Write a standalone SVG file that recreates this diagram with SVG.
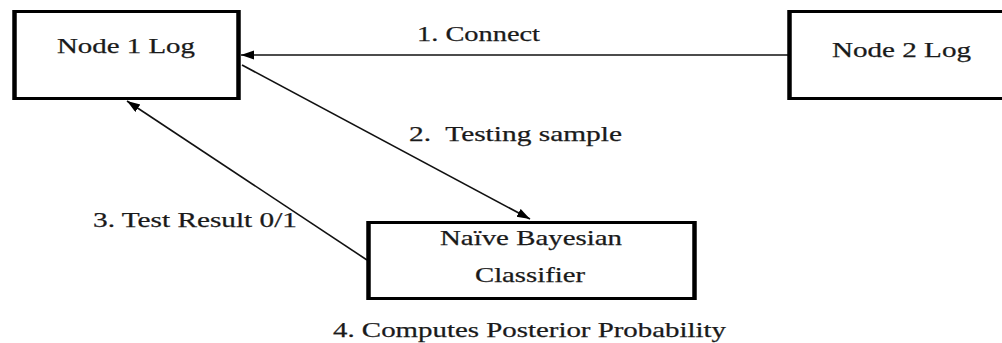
<svg xmlns="http://www.w3.org/2000/svg" width="1002" height="343" viewBox="0 0 1002 343">
  <style>
    .box { fill: #ffffff; stroke: #000000; stroke-width: 3; }
    .side { stroke: #000000; stroke-width: 4.5; fill: none; }
    .label { font-family: "Liberation Serif", "Times New Roman", serif; font-size: 21px; fill: #1a1a1a; stroke: #1a1a1a; stroke-width: 0.25; white-space: pre; }
    .edge { stroke: #111111; stroke-width: 1.6; fill: none; marker-end: url(#arrow); }
  </style>
  <defs>
    <marker id="arrow" markerUnits="userSpaceOnUse" markerWidth="14" markerHeight="10" refX="13" refY="4.5" orient="auto">
      <path d="M0,0 L13,4.5 L0,9 Z" fill="#000000"/>
    </marker>
  </defs>
  <rect width="1002" height="343" fill="#ffffff"/>

  <!-- connectors -->
  <g id="connectors">
    <line class="edge" x1="788" y1="55" x2="241" y2="55"/>
    <line class="edge" x1="242" y1="65" x2="530" y2="219"/>
    <line class="edge" x1="367" y1="260" x2="127" y2="101"/>
    <text class="label" x="417" y="41" textLength="123" lengthAdjust="spacingAndGlyphs">1. Connect</text>
    <text class="label" x="409" y="141" textLength="213" lengthAdjust="spacingAndGlyphs">2.  Testing sample</text>
    <text class="label" x="93" y="227" textLength="204" lengthAdjust="spacingAndGlyphs">3. Test Result 0/1</text>
    <text class="label" x="333" y="337" textLength="393" lengthAdjust="spacingAndGlyphs">4. Computes Posterior Probability</text>
  </g>

  <!-- Node 1 Log -->
  <g id="node1">
    <rect class="box" x="14.5" y="11.5" width="224" height="87"/>
    <line class="side" x1="14.5" y1="10" x2="14.5" y2="100"/>
    <line class="side" x1="238.5" y1="10" x2="238.5" y2="100"/>
    <text class="label" x="57" y="53" textLength="138" lengthAdjust="spacingAndGlyphs">Node 1 Log</text>
  </g>

  <!-- Node 2 Log (runs past the right edge) -->
  <g id="node2">
    <rect class="box" x="789.5" y="11.5" width="230" height="87"/>
    <line class="side" x1="789.5" y1="10" x2="789.5" y2="100"/>
    <text class="label" x="832" y="57" textLength="139" lengthAdjust="spacingAndGlyphs">Node 2 Log</text>
  </g>

  <!-- Naive Bayesian Classifier -->
  <g id="classifier">
    <rect class="box" x="368.5" y="222.5" width="326" height="76"/>
    <line class="side" x1="368.5" y1="221" x2="368.5" y2="300"/>
    <line class="side" x1="694.5" y1="221" x2="694.5" y2="300"/>
    <text class="label" x="440" y="245" textLength="182" lengthAdjust="spacingAndGlyphs">Naïve Bayesian</text>
    <text class="label" x="475" y="282" textLength="110" lengthAdjust="spacingAndGlyphs">Classifier</text>
  </g>
</svg>
